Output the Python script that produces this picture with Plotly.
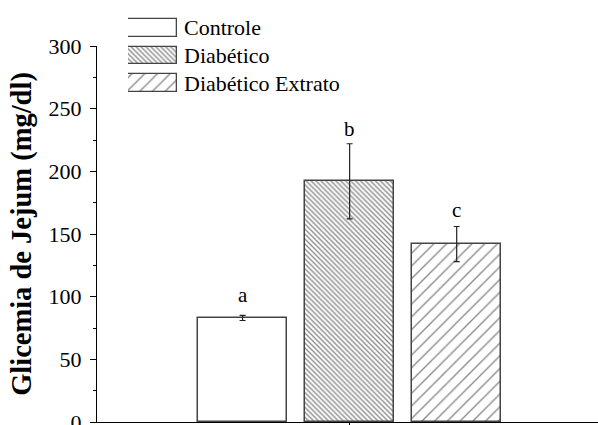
import plotly.graph_objects as go

# ---- data ----
categories = ["Controle", "Diabético", "Diabético Extrato"]
means = [83, 192, 142]
sds = [2, 30, 14]
letters = ["a", "b", "c"]
letter_y = [101, 234, 169]
patterns = ["", "\\", "/"]
pattern_sizes = [8, 3.5, 9]
pattern_solidity = [0.0, 0.38, 0.15]
y_ticks = [0, 50, 100, 150, 200, 250, 300]

FONT = "Liberation Serif"
W, H = 598, 425
ML, MB = 97, 3
plot_h = H - MB          # paper height in px (margin top = 0)
plot_w = W - ML

def px_x(p):
    return (p - ML) / plot_w

def px_y(p):
    return (plot_h - p) / plot_h

xpos = list(range(len(categories)))

fig = go.Figure()
for i, cat in enumerate(categories):
    fig.add_trace(go.Bar(
        x=[xpos[i]], y=[means[i]], width=0.83, name=cat, showlegend=False,
        marker=dict(color="white", line=dict(color="#444", width=1.5),
                    pattern=dict(shape=patterns[i], size=pattern_sizes[i],
                                 solidity=pattern_solidity[i], fgcolor="#111",
                                 bgcolor="white")),
        error_y=dict(type="data", array=[sds[i]], visible=True,
                     color="#222", thickness=1.2, width=3),
        xaxis="x", yaxis="y",
    ))
    # legend swatch (custom legend on its own small axes)
    fig.add_trace(go.Bar(
        y=[cat], x=[1], orientation="h", width=0.64, showlegend=False,
        marker=dict(color="white", line=dict(color="#444", width=1.3),
                    pattern=dict(shape=patterns[i], size=pattern_sizes[i],
                                 solidity=pattern_solidity[i], fgcolor="#111",
                                 bgcolor="white")),
        xaxis="x2", yaxis="y2", hoverinfo="skip",
    ))
    fig.add_annotation(x=px_x(182), xref="paper", y=cat, yref="y2",
                       text=cat, showarrow=False, xanchor="left",
                       yanchor="middle", font=dict(family=FONT, size=22, color="black"))
    fig.add_annotation(x=xpos[i], y=letter_y[i], xref="x", yref="y",
                       text=letters[i], showarrow=False, yanchor="middle",
                       font=dict(family=FONT, size=21, color="black"))

main_top = px_y(46)
fig.update_layout(
    width=W, height=H, autosize=False,
    margin=dict(l=ML, r=0, t=0, b=MB, pad=0, autoexpand=False),
    paper_bgcolor="white", plot_bgcolor="white",
    font=dict(family=FONT, color="black"),
    showlegend=False,
    bargap=0,
    xaxis=dict(domain=[0, 1], range=[-1.36, 3.32], showgrid=False, zeroline=False,
               automargin=False,
               showline=True, linecolor="black", linewidth=1.2,
               tickvals=[1], ticks="outside", ticklen=5, tickcolor="black",
               showticklabels=False),
    yaxis=dict(domain=[0, main_top], range=[0, 300], showgrid=False, zeroline=False,
               automargin=False, ticklabeloverflow="allow",
               showline=True, linecolor="black", linewidth=1.2,
               tickvals=y_ticks, ticks="outside", ticklen=6, tickcolor="black",
               tickfont=dict(family=FONT, size=22, color="black"),
               ticklabelstandoff=4,
               minor=dict(dtick=25, tick0=0, ticks="outside", ticklen=3, tickcolor="black"),
               title=dict(text="<b>Glicemia de Jejum (mg/dl)</b>",
                          font=dict(family=FONT, size=28.5, color="black"), standoff=8)),
    xaxis2=dict(domain=[px_x(128), px_x(177)], range=[0, 1], visible=False,
                automargin=False, anchor="y2", fixedrange=True),
    yaxis2=dict(domain=[px_y(97), px_y(14)], range=[2.5, -0.5], visible=False,
                automargin=False, anchor="x2", type="category", fixedrange=True,
                categoryorder="array", categoryarray=categories),
)

fig.write_html("out.html", config={"displayModeBar": False},
               post_script="document.body.style.margin='0';document.body.style.overflow='hidden';")
